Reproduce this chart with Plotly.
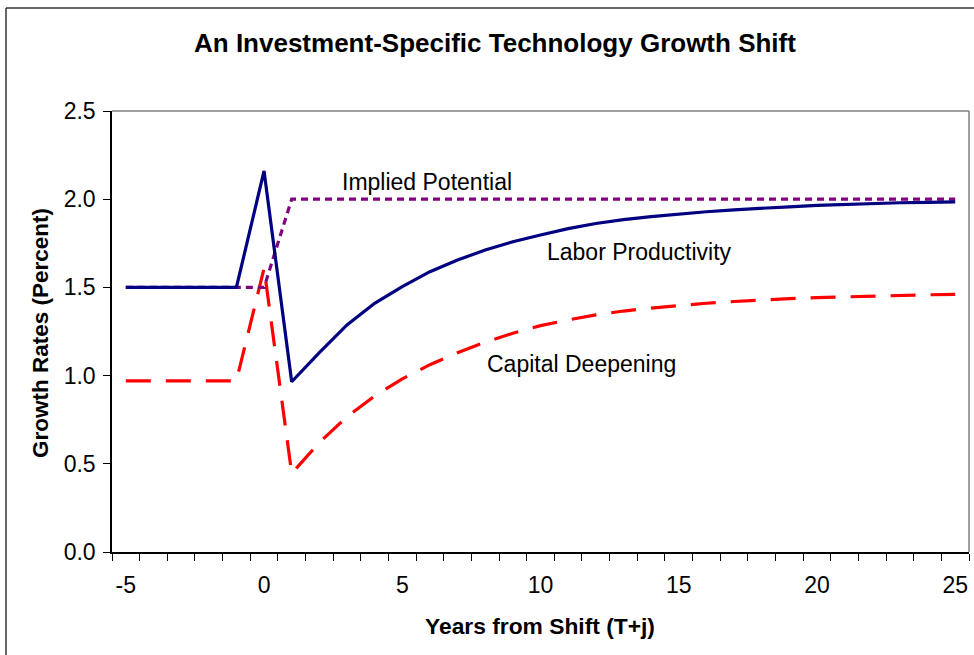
import plotly.graph_objects as go

years = list(range(-5, 26))
labor_productivity = [1.5, 1.5, 1.5, 1.5, 1.5,
                      2.16, 0.965, 1.13, 1.287, 1.41, 1.504, 1.589, 1.655, 1.712, 1.759,
                      1.797, 1.833, 1.862, 1.884, 1.901, 1.916, 1.929, 1.940, 1.950, 1.957,
                      1.965, 1.971, 1.977, 1.980, 1.982, 1.985]
implied_potential = [1.5, 1.5, 1.5, 1.5, 1.5, 1.5] + [2.0] * 25
capital_deepening = [0.97, 0.97, 0.97, 0.97, 0.97,
                     1.608, 0.446, 0.62, 0.767, 0.884, 0.981, 1.062, 1.13, 1.19, 1.24,
                     1.283, 1.316, 1.344, 1.366, 1.383, 1.398, 1.41, 1.42, 1.429, 1.436,
                     1.442, 1.447, 1.451, 1.455, 1.458, 1.461]
x_tick_vals = [-5, 0, 5, 10, 15, 20, 25]
y_tick_vals = [0.0, 0.5, 1.0, 1.5, 2.0, 2.5]

FONT = "Liberation Sans, Arial, sans-serif"
W, H = 974, 655
L, R, T, B = 112, 969, 111, 552  # plot area pixels

fig = go.Figure()
fig.add_trace(go.Scatter(x=years, y=capital_deepening, mode="lines", name="Capital Deepening",
                         line=dict(color="#FF0000", width=3.2, dash="25px,15px")))
fig.add_trace(go.Scatter(x=years, y=implied_potential, mode="lines", name="Implied Potential",
                         line=dict(color="#800080", width=3.2, dash="7px,5px")))
fig.add_trace(go.Scatter(x=years, y=labor_productivity, mode="lines", name="Labor Productivity",
                         line=dict(color="#000080", width=3.2)))

def px_x(p):
    return (p - L) / (R - L)

def px_y(p):
    return (B - p) / (B - T)

shapes = [
    # plot area top and right border (gray)
    dict(type="line", xref="paper", yref="paper", x0=0, x1=1, y0=1, y1=1,
         line=dict(color="#808080", width=1.5)),
    dict(type="line", xref="paper", yref="paper", x0=1, x1=1, y0=0, y1=1,
         line=dict(color="#808080", width=1.5)),
    # outer chart border (top and left)
    dict(type="line", xref="paper", yref="paper", x0=px_x(6), x1=px_x(974), y0=px_y(8), y1=px_y(8),
         line=dict(color="#333333", width=1.5)),
    dict(type="line", xref="paper", yref="paper", x0=px_x(6), x1=px_x(6), y0=px_y(8), y1=px_y(655),
         line=dict(color="#333333", width=1.5)),
]

annotations = [
    dict(text="Implied Potential", x=2.75, y=2.10, xref="x", yref="y", xanchor="left", yanchor="middle",
         showarrow=False, font=dict(family=FONT, size=23, color="black")),
    dict(text="Labor Productivity", x=10.16, y=1.70, xref="x", yref="y", xanchor="left", yanchor="middle",
         showarrow=False, font=dict(family=FONT, size=23, color="black")),
    dict(text="Capital Deepening", x=7.99, y=1.066, xref="x", yref="y", xanchor="left", yanchor="middle",
         showarrow=False, font=dict(family=FONT, size=23, color="black")),
    dict(text="<b>An Investment-Specific Technology Growth Shift</b>", x=px_x(495), y=px_y(43),
         xref="paper", yref="paper", xanchor="center", yanchor="middle", showarrow=False,
         font=dict(family=FONT, size=26, color="black")),
    dict(text="<b>Years from Shift (T+j)</b>", x=px_x(540), y=px_y(626),
         xref="paper", yref="paper", xanchor="center", yanchor="middle", showarrow=False,
         font=dict(family=FONT, size=22.8, color="black")),
    dict(text="<b>Growth Rates (Percent)</b>", x=px_x(40), y=px_y(333), textangle=-90,
         xref="paper", yref="paper", xanchor="center", yanchor="middle", showarrow=False,
         font=dict(family=FONT, size=22.5, color="black")),
]

fig.update_layout(
    width=W, height=H,
    margin=dict(l=L, r=W - R, t=T, b=H - B, pad=0),
    paper_bgcolor="white", plot_bgcolor="white",
    showlegend=False,
    shapes=shapes,
    annotations=annotations,
    font=dict(family=FONT, size=23, color="black"),
)
fig.update_xaxes(
    range=[-5.5, 25.5], tickmode="array", tickvals=x_tick_vals,
    ticktext=[str(v) for v in x_tick_vals],
    ticks="", showgrid=False, zeroline=False,
    showline=True, linecolor="black", linewidth=1.5,
    tickfont=dict(family=FONT, size=23, color="black"),
    ticklabelstandoff=12,
    minor=dict(tickmode="linear", tick0=-5.5, dtick=1, ticks="outside", ticklen=7,
               tickcolor="black", tickwidth=1.2, showgrid=False),
)
fig.update_yaxes(
    range=[0, 2.5], tickmode="array", tickvals=y_tick_vals,
    ticktext=[f"{v:.1f}" for v in y_tick_vals],
    ticks="outside", ticklen=7, tickcolor="black", tickwidth=1.2,
    showgrid=False, zeroline=False,
    showline=True, linecolor="black", linewidth=1.5,
    tickfont=dict(family=FONT, size=23, color="black"),
    ticklabelstandoff=3,
)

fig.write_html("out.html", config={"displayModeBar": False},
               post_script="document.body.style.margin='0px';document.body.style.padding='0px';")
